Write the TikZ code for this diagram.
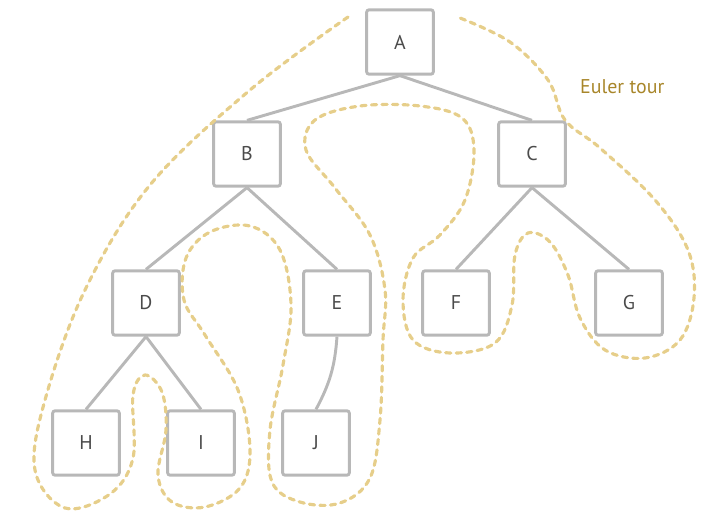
\documentclass[tikz,border=0pt]{standalone}
\usepackage{fontspec}
\setmainfont{PT Sans}
\usepackage{xcolor}
\usetikzlibrary{positioning, calc, decorations.pathmorphing}

\definecolor{boxgray}{RGB}{184,184,184}
\definecolor{labelgray}{RGB}{75,75,75}
\definecolor{tourgold}{RGB}{230,206,138}
\definecolor{tourtext}{RGB}{168,134,42}

\begin{document}
\begin{tikzpicture}[x=0.03cm, y=-0.03cm]
    \tikzstyle{vertex} = [rectangle, draw=boxgray, line width=2.5pt, rounded corners=2pt, fill=white, minimum width=2cm, minimum height=1.93cm, text=labelgray, font=\fontsize{17}{19}\selectfont, inner sep=0pt]
    \tikzstyle{edge} = [draw=boxgray, line width=2.5pt]
    \tikzstyle{tour} = [draw=tourgold, line width=2.7pt, dash pattern=on 4.5pt off 4.5pt, line cap=round]

    \useasboundingbox (0,0) rectangle (721,525);

    % tree nodes
    \node[vertex] (A) at (400,42) {A};
    \node[vertex] (B) at (247,154) {B};
    \node[vertex] (C) at (532,154) {C};
    \node[vertex] (D) at (146,303) {D};
    \node[vertex] (E) at (337,303) {E};
    \node[vertex] (F) at (456,303) {F};
    \node[vertex] (G) at (629,303) {G};
    \node[vertex] (H) at (86,443) {H};
    \node[vertex] (I) at (201,443) {I};
    \node[vertex] (J) at (316,443) {J};

    % tree edges
    \draw[edge] (A.south) -- (B.north);
    \draw[edge] (A.south) -- (C.north);
    \draw[edge] (B.south) -- (D.north);
    \draw[edge] (B.south) -- (E.north);
    \draw[edge] (C.south) -- (F.north);
    \draw[edge] (C.south) -- (G.north);
    \draw[edge] (D.south) -- (H.north);
    \draw[edge] (D.south) -- (I.north);
    \draw[edge] (E.south) to[bend left=12] (J.north);

    % the tour around the tree
    \draw[tour] plot[smooth, tension=0.6] coordinates {
        (348,17) (250,90) (150,185) (85,290) (45,400) (35,470) (65,508)
        (110,494) (133,458) (133,395) (145,375) (162,392) (166,430)
        (158,475) (172,502) (205,507) (240,488) (250,450) (238,390)
        (205,335) (184,300) (186,258) (210,232) (250,226) (280,250)
        (291,305) (283,365) (270,430) (272,482) (300,502) (340,503)
        (370,478) (380,420) (383,340) (385,290) (370,235) (335,188)
        (306,150) (315,120) (360,106) (420,106) (462,118) (474,150)
        (465,200) (440,235) (413,258) (403,300) (413,340) (450,353)
        (495,343) (512,305) (515,255) (528,233) (550,242) (568,275)
        (580,318) (605,350) (645,358) (680,340) (694,298) (688,250)
        (655,200) (600,148) (565,120) (548,80) (510,42) (460,18)
    };

    \node[text=tourtext, font=\fontsize{17}{19}\selectfont, anchor=west] (tourlabel) at (576,87) {Euler tour};
\end{tikzpicture}
\end{document}
